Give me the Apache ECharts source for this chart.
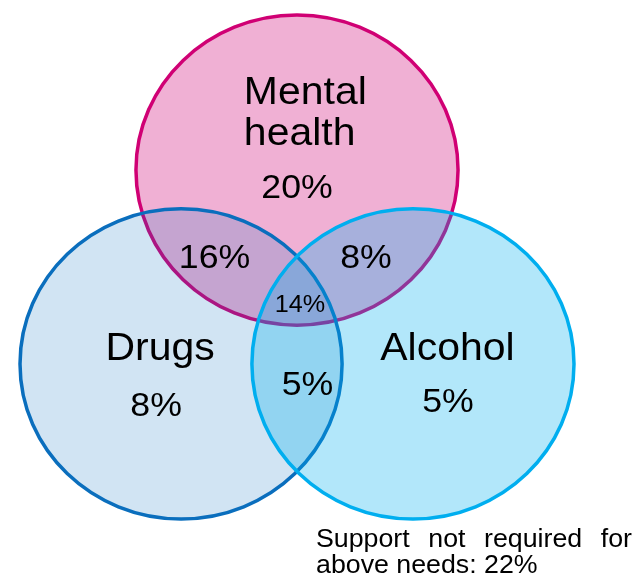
<!DOCTYPE html>
<html>
<head>
<meta charset="utf-8">
<script src="https://cdn.jsdelivr.net/npm/echarts@6/dist/echarts.min.js"></script>
<style>
  html, body { margin: 0; padding: 0; background: #ffffff; }
  #chart { width: 632px; height: 580px; }
</style>
</head>
<body>
<div id="chart"></div>
<script>
// Three support-need sets, laid out in diagram units (each circle has radius 100)
const setNames = ['Mental health', 'Drugs', 'Alcohol'];
const setLabels = ['Mental\nhealth', 'Drugs', 'Alcohol'];
const setCenterX = [0, -72, 72];
const setCenterY = [125, 0, 0];
const setRadius = [100, 100, 100];

// Share of people in each region of the diagram (%)
const regionNames = ['Mental health only', 'Drugs only', 'Alcohol only',
  'Mental health & drugs', 'Mental health & alcohol', 'Drugs & alcohol', 'All three'];
const regionValues = [20, 8, 5, 16, 8, 5, 14];
// Label anchor of each region, in diagram units
const regionX = [0, -87.5, 93.8, -51.2, 42.8, 6.5, 1.9];
const regionY = [113, -27.5, -25, 68, 68, -14, 37.5];

// Anchor of each set name, in diagram units
const nameX = [-33, -85, 93.4];
const nameY = [161, 9.5, 9.5];

// People outside all three sets (%)
const noneValue = 22;

const FONT = '"Liberation Sans", Arial, Helvetica, sans-serif';
const TEXT_STRETCH = 1.05;
const strokeColors = ['#d00074', '#0a6ebd', '#00aeef'];
const fillColors = ['rgba(208,0,116,0.31)', 'rgba(10,110,189,0.19)', 'rgba(0,174,239,0.30)'];

const chart = echarts.init(document.getElementById('chart'), null, { renderer: 'canvas' });

// Spread the words of a line evenly across its box (justified text)
function justifiedWords(text, left, right, fontSize, stretch) {
  const ctx = document.createElement('canvas').getContext('2d');
  ctx.font = fontSize + 'px ' + FONT;
  const words = text.split(' ');
  const widths = words.map(w => ctx.measureText(w).width * stretch);
  const total = widths.reduce((a, b) => a + b, 0);
  const gap = words.length > 1 ? (right - left - total) / (words.length - 1) : 0;
  let x = left;
  return words.map((w, i) => {
    const el = { word: w, x: x };
    x += widths[i] + gap;
    return el;
  });
}

const noteSize = 25;
const noteStretch = 1.07;
const noteStyle = { font: noteSize + 'px ' + FONT, fill: '#000', align: 'left', verticalAlign: 'middle' };
const line1 = justifiedWords('Support not required for', 316, 632, noteSize, noteStretch).map(o => ({
  type: 'text',
  x: o.x, y: 540, scaleX: noteStretch,
  style: Object.assign({ text: o.word }, noteStyle)
}));
const line2 = {
  type: 'text',
  x: 316, y: 566, scaleX: noteStretch,
  style: Object.assign({ text: 'above needs: ' + noneValue + '%' }, noteStyle)
};

chart.setOption({
  animation: false,
  backgroundColor: '#ffffff',
  grid: { left: 20, top: 15, width: 554, height: 504, containLabel: false },
  xAxis: { type: 'value', min: -172, max: 172, show: false },
  yAxis: { type: 'value', min: -100, max: 225, show: false },
  graphic: line1.concat([line2]),
  series: [
    {
      name: 'Sets',
      type: 'custom',
      coordinateSystem: 'cartesian2d',
      clip: false,
      z: 1,
      data: setNames.map((n, i) => ({ name: n, value: [setCenterX[i], setCenterY[i], setRadius[i]] })),
      renderItem: function (params, api) {
        const c = api.coord([api.value(0), api.value(1)]);
        const s = api.size([api.value(2), api.value(2)]);
        const i = params.dataIndex;
        return {
          type: 'ellipse',
          shape: { cx: c[0], cy: c[1], rx: s[0], ry: s[1] },
          style: { fill: fillColors[i], stroke: strokeColors[i], lineWidth: 3.5 }
        };
      }
    },
    {
      name: 'Set names',
      type: 'custom',
      coordinateSystem: 'cartesian2d',
      clip: false,
      z: 3,
      data: setLabels.map((n, i) => ({ name: n, value: [nameX[i], nameY[i]] })),
      renderItem: function (params, api) {
        const c = api.coord([api.value(0), api.value(1)]);
        const i = params.dataIndex;
        return {
          type: 'text',
          x: c[0], y: c[1], scaleX: TEXT_STRETCH,
          style: {
            text: setLabels[i],
            font: '39px ' + FONT,
            fill: '#000',
            lineHeight: 41,
            align: i === 0 ? 'left' : 'center',
            verticalAlign: 'middle'
          }
        };
      }
    },
    {
      name: 'Regions',
      type: 'custom',
      coordinateSystem: 'cartesian2d',
      clip: false,
      z: 3,
      data: regionNames.map((n, i) => ({ name: n, value: [regionX[i], regionY[i], regionValues[i]] })),
      renderItem: function (params, api) {
        const c = api.coord([api.value(0), api.value(1)]);
        const i = params.dataIndex;
        const size = i === 6 ? 24 : 34;
        return {
          type: 'text',
          x: c[0], y: c[1], scaleX: TEXT_STRETCH,
          style: {
            text: api.value(2) + '%',
            font: size + 'px ' + FONT,
            fill: '#000',
            align: 'center',
            verticalAlign: 'middle'
          }
        };
      }
    }
  ]
});
</script>
</body>
</html>
